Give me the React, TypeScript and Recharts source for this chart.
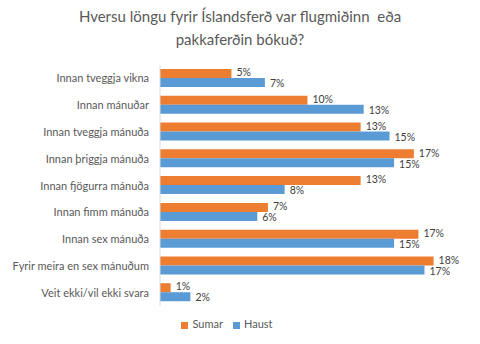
import React from 'react';
import { BarChart, Bar, XAxis, YAxis, Legend, LabelList } from 'recharts';

const categories = [
  'Innan tveggja vikna',
  'Innan mánuðar',
  'Innan tveggja mánuða',
  'Innan þriggja mánuða',
  'Innan fjögurra mánuða',
  'Innan fimm mánuða',
  'Innan sex mánuða',
  'Fyrir meira en sex mánuðum',
  'Veit ekki/vil ekki svara',
];
const sumar = [0.047, 0.097, 0.132, 0.167, 0.132, 0.071, 0.17, 0.18, 0.007];
const haust = [0.069, 0.134, 0.151, 0.154, 0.082, 0.064, 0.154, 0.174, 0.02];

const data = categories.map((name, i) => ({ name, Sumar: sumar[i], Haust: haust[i] }));

const FONT = 'Lato, "Liberation Sans", sans-serif';
const pct = (v: any) => `${Math.round(Number(v) * 100)}%`;

const CategoryTick = ({ x, y, payload }: any) => (
  <text x={x} y={y} dy={4} textAnchor="end" fill="#595959" fontSize={11} fontFamily={FONT}>
    {payload.value}
  </text>
);

const seriesOrder: Record<string, number> = { Sumar: 0, Haust: 1 };

export default function App() {
  return (
    <div style={{ position: 'absolute', left: 0, top: 0, width: 480, height: 344, background: '#fff', fontFamily: FONT }}>
      <div
        style={{
          position: 'absolute',
          top: 5,
          left: 0,
          width: 480,
          textAlign: 'center',
          fontSize: 15,
          lineHeight: '23px',
          color: '#595959',
        }}
      >
        Hversu löngu fyrir Íslandsferð var flugmiðinn&nbsp; eða
        <br />
        pakkaferðin bókuð?
      </div>
      <BarChart
        width={480}
        height={344}
        data={data}
        layout="vertical"
        barGap={0}
        barSize={9}
        margin={{ top: 65, right: 16, bottom: 25, left: 0 }}
      >
        <XAxis type="number" hide domain={[0, 0.2]} />
        <YAxis
          type="category"
          dataKey="name"
          width={160}
          tickLine={false}
          tickMargin={5}
          axisLine={{ stroke: '#d9d9d9' }}
          tick={<CategoryTick />}
          interval={0}
        />
        <Legend
          verticalAlign="bottom"
          align="center"
          iconType="square"
          iconSize={7}
          itemSorter={(item: any) => seriesOrder[item.value] ?? 0}
          wrapperStyle={{ bottom: 14, fontSize: 11, fontFamily: FONT }}
          formatter={(v: any) => <span style={{ color: '#595959' }}>{v}</span>}
        />
        <Bar dataKey="Sumar" fill="#ED7D31" isAnimationActive={false}>
          <LabelList dataKey="Sumar" position="right" offset={5} dy={-1} formatter={pct} fill="#404040" fontSize={10.5} fontFamily={FONT} />
        </Bar>
        <Bar dataKey="Haust" fill="#5B9BD5" isAnimationActive={false}>
          <LabelList dataKey="Haust" position="right" offset={5} dy={1} formatter={pct} fill="#404040" fontSize={10.5} fontFamily={FONT} />
        </Bar>
      </BarChart>
    </div>
  );
}
